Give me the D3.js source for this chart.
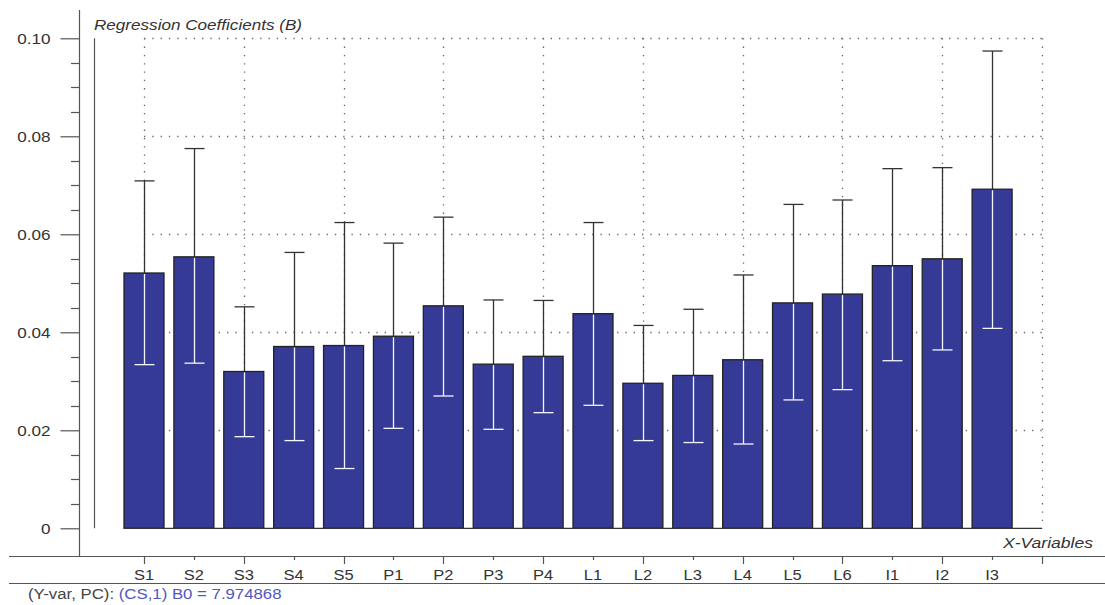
<!DOCTYPE html>
<html>
<head>
<meta charset="utf-8">
<script src="https://cdn.jsdelivr.net/npm/d3@7"></script>
<style>
  html, body { margin: 0; padding: 0; background: #fff; }
  svg { display: block; }
  text { font-family: "Liberation Sans", Arial, sans-serif; }
</style>
</head>
<body>
<svg id="chart" width="1105" height="605"></svg>
<script>
// Regression coefficients per X-variable, with confidence limits
const categories = ["S1","S2","S3","S4","S5","P1","P2","P3","P4","L1","L2","L3","L4","L5","L6","I1","I2","I3"];
const coefficients = [0.0521,0.0554,0.0320,0.0371,0.0373,0.0392,0.0454,0.0335,0.0351,0.0438,0.0296,0.0312,0.0344,0.0460,0.0478,0.0536,0.0550,0.0692];
const upperLimits  = [0.0709,0.0775,0.0452,0.0563,0.0624,0.0582,0.0635,0.0466,0.0465,0.0624,0.0414,0.0447,0.0517,0.0661,0.0670,0.0734,0.0736,0.0974];
const lowerLimits  = [0.0334,0.0337,0.0187,0.0179,0.0122,0.0204,0.0270,0.0202,0.0236,0.0251,0.0179,0.0175,0.0172,0.0262,0.0283,0.0342,0.0364,0.0408];
const yTickValues = [0, 0.02, 0.04, 0.06, 0.08, 0.10];
const yTickLabels = ["0", "0.02", "0.04", "0.06", "0.08", "0.10"];
const footerPrefix = "(Y-var, PC): ";
const footerInfo = "(CS,1) B0 = 7.974868";

const svg = d3.select("#chart");
const data = categories.map((c, i) => ({ name: c, b: coefficients[i], hi: upperLimits[i], lo: lowerLimits[i] }));

// text is drawn slightly widened horizontally
const SX = 1.14;
const FONT = "15px";

// scales: one slot per variable plus one trailing slot closing the plot
const slots = categories.concat(["_end"]);
const x = d3.scalePoint().domain(slots).range([144, 1042]);
const barW = 40;
const y = d3.scaleLinear().domain([0, 0.10]).range([528.3, 38.3]);

const axisColor = "#555";
const textColor = "#333";

function label(g, tx, ty, str, opts = {}) {
  return g.append("text")
    .attr("transform", `translate(${tx},${ty}) scale(${opts.sx || SX},1)`)
    .attr("text-anchor", opts.anchor || "start")
    .attr("fill", opts.fill || textColor)
    .style("font-size", opts.size || FONT)
    .style("font-style", opts.italic ? "italic" : "normal")
    .text(str);
}

// outer frame lines
svg.append("line").attr("x1", 79.5).attr("x2", 79.5).attr("y1", 10).attr("y2", 556)
  .attr("stroke", axisColor).attr("stroke-width", 1.2);
svg.append("line").attr("x1", 9).attr("x2", 1105).attr("y1", 556.5).attr("y2", 556.5)
  .attr("stroke", axisColor).attr("stroke-width", 1.2);
svg.append("line").attr("x1", 9).attr("x2", 1105).attr("y1", 583.5).attr("y2", 583.5)
  .attr("stroke", axisColor).attr("stroke-width", 1.2);

// inner vertical reference line
svg.append("line").attr("x1", 94.5).attr("x2", 94.5).attr("y1", y(0.10)).attr("y2", y(0))
  .attr("stroke", axisColor).attr("stroke-width", 1.2);

// y axis with major and minor ticks
const yAxis = d3.axisLeft(y).tickValues(yTickValues).tickSize(19)
  .tickFormat((d, i) => yTickLabels[i]).tickPadding(10);
const gy = svg.append("g").attr("transform", "translate(79.5,0)").call(yAxis);
gy.select(".domain").remove();
gy.selectAll(".tick line").attr("stroke", axisColor).attr("stroke-width", 1.2);
gy.selectAll(".tick text")
  .attr("fill", textColor)
  .attr("x", -29 / SX)
  .attr("transform", `scale(${SX},1)`)
  .style("font-size", FONT)
  .style("font-family", "'Liberation Sans', Arial, sans-serif");
const minorVals = d3.range(0, 0.1001, 0.005).filter(v => !yTickValues.some(t => Math.abs(t - v) < 1e-9));
svg.append("g").selectAll("line").data(minorVals).join("line")
  .attr("x1", 71).attr("x2", 79.5)
  .attr("y1", d => Math.round(y(d)) + 0.5).attr("y2", d => Math.round(y(d)) + 0.5)
  .attr("stroke", axisColor).attr("stroke-width", 1.2);

// dotted grid
const xEnd = x("_end");
const grid = svg.append("g").attr("stroke", "#666").attr("stroke-width", 1.3).attr("stroke-dasharray", "1.3,7");
grid.selectAll("line.h").data(yTickValues.slice(1)).join("line").attr("class", "h")
  .attr("x1", x(categories[0])).attr("x2", xEnd)
  .attr("y1", d => Math.round(y(d)) + 0.5).attr("y2", d => Math.round(y(d)) + 0.5);
const vSlots = slots.filter((s, i) => i % 2 === 0);
grid.selectAll("line.v").data(vSlots).join("line").attr("class", "v")
  .attr("x1", d => Math.round(x(d)) + 0.5).attr("x2", d => Math.round(x(d)) + 0.5)
  .attr("y1", y(0.10)).attr("y2", y(0));

// bars
svg.append("g").selectAll("rect").data(data).join("rect")
  .attr("x", d => x(d.name) - barW / 2)
  .attr("width", barW)
  .attr("y", d => y(d.b))
  .attr("height", d => y(0) - y(d.b))
  .attr("fill", "#343a96")
  .attr("stroke", "#222")
  .attr("stroke-width", 1.3);

// baseline
svg.append("line").attr("x1", x(categories[0]) - barW / 2).attr("x2", xEnd)
  .attr("y1", y(0)).attr("y2", y(0)).attr("stroke", "#333").attr("stroke-width", 1.3);

// error bars: dark above the bar top, white inside the bar
const capW = 20;
const eb = svg.append("g");
data.forEach(d => {
  const cx = Math.round(x(d.name)) + 0.5;
  eb.append("line").attr("x1", cx).attr("x2", cx).attr("y1", y(d.hi)).attr("y2", y(d.b))
    .attr("stroke", "#333").attr("stroke-width", 1.3);
  eb.append("line").attr("x1", cx - capW / 2).attr("x2", cx + capW / 2).attr("y1", y(d.hi)).attr("y2", y(d.hi))
    .attr("stroke", "#333").attr("stroke-width", 1.3);
  eb.append("line").attr("x1", cx).attr("x2", cx).attr("y1", y(d.b) + 1).attr("y2", y(d.lo))
    .attr("stroke", "#f4f4ff").attr("stroke-width", 1.3);
  eb.append("line").attr("x1", cx - capW / 2).attr("x2", cx + capW / 2).attr("y1", y(d.lo)).attr("y2", y(d.lo))
    .attr("stroke", "#f4f4ff").attr("stroke-width", 1.3);
});

// x axis ticks below the frame line
const tickG = svg.append("g");
slots.forEach((s, i) => {
  const cx = Math.round(x(s)) + 0.5;
  tickG.append("line").attr("x1", cx).attr("x2", cx).attr("y1", 556.5).attr("y2", i % 2 === 0 ? 564 : 560)
    .attr("stroke", axisColor).attr("stroke-width", 1.2);
});
categories.forEach(c => label(tickG, x(c), 580, c, { anchor: "middle", sx: 1.1 }));

// axis titles
label(svg, 94, 30, "Regression Coefficients (B)", { italic: true });
label(svg, 1093, 548, "X-Variables", { italic: true, anchor: "end", sx: 1.17 });

// footer
const foot = svg.append("text")
  .attr("transform", `translate(28,599) scale(1.12,1)`)
  .style("font-size", FONT);
foot.append("tspan").attr("fill", "#444").text(footerPrefix);
foot.append("tspan").attr("fill", "#5058c0").text(footerInfo);
</script>
</body>
</html>
